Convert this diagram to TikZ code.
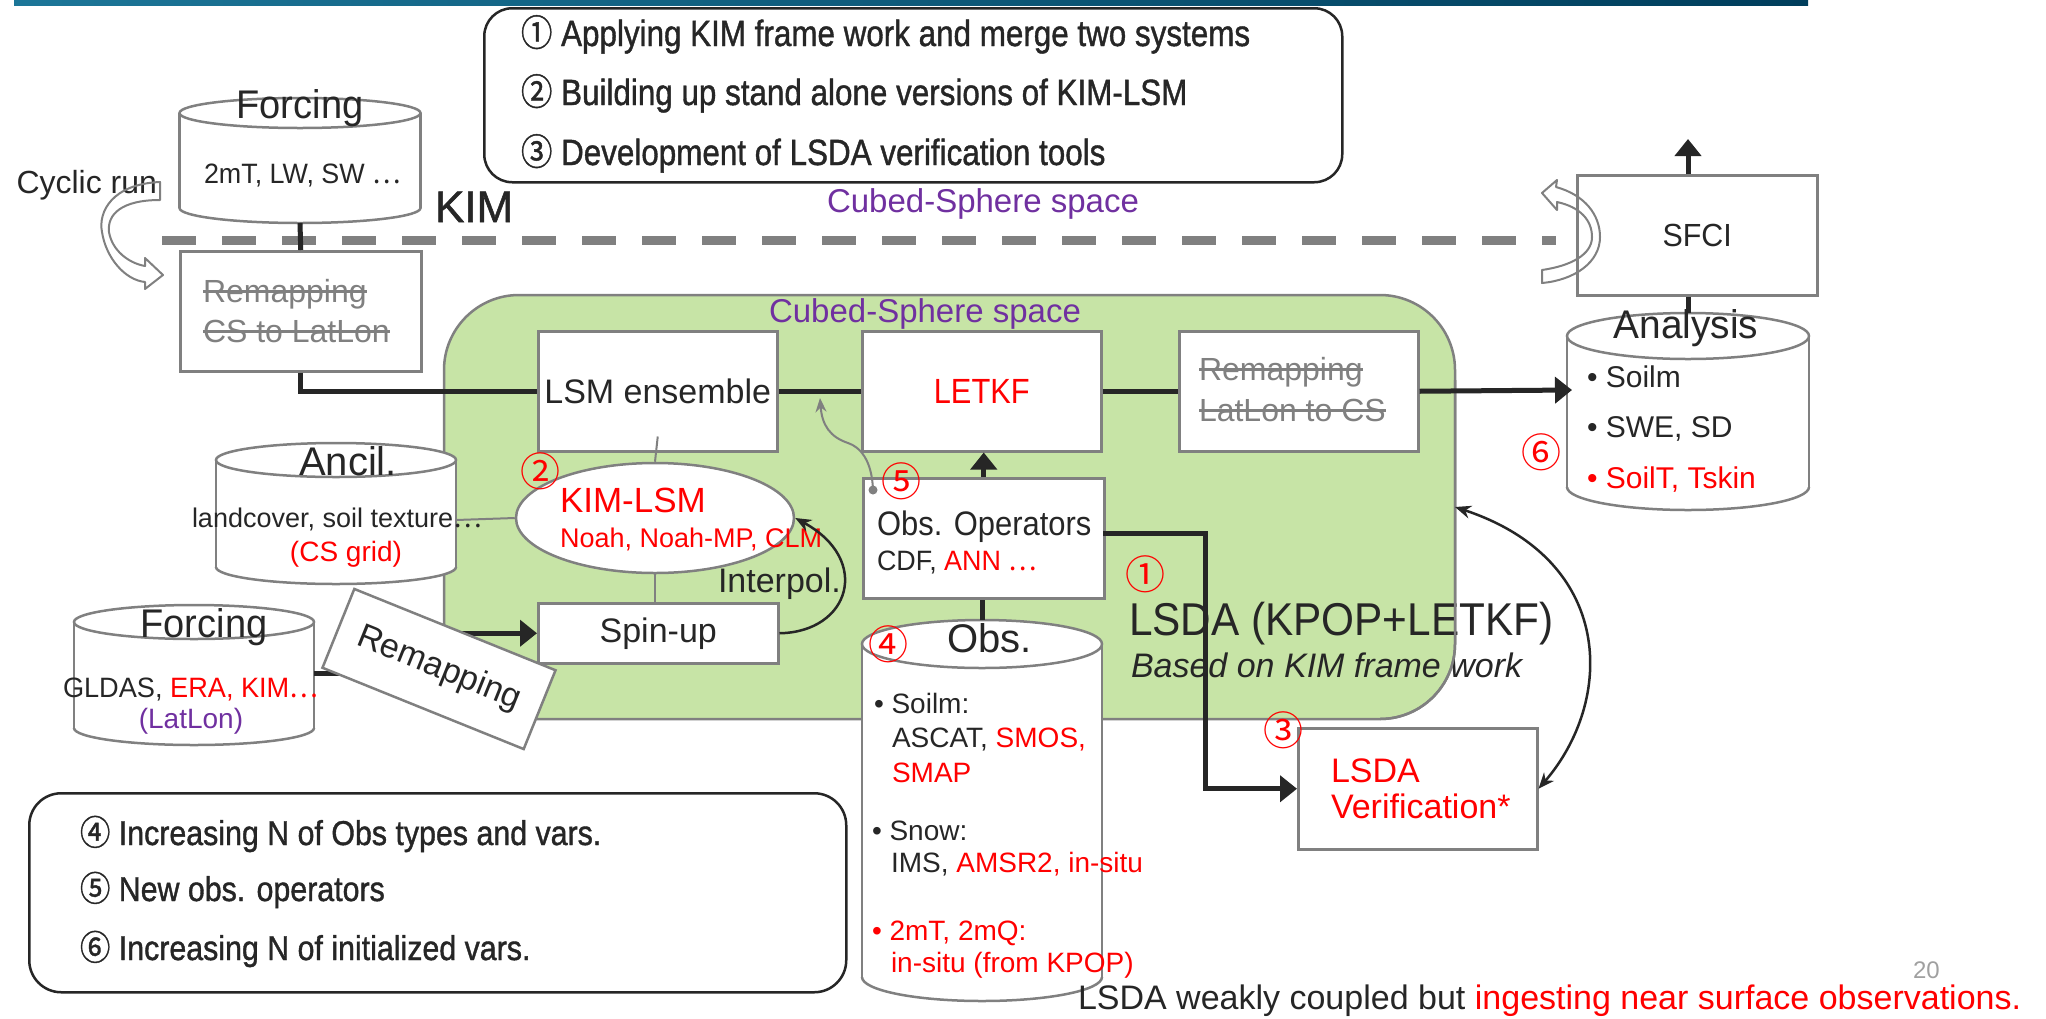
\documentclass[tikz,border=0pt]{standalone}
\usepackage{fontspec}
\setmainfont{Liberation Sans}
\newfontfamily\cjk{Noto Sans CJK SC}
\newfontfamily\cjkb{Noto Sans CJK SC}[FakeBold=1.2]
\newfontfamily\hv{Liberation Sans}[FakeBold=1.2]
\usepackage{graphicx}
\usetikzlibrary{arrows.meta,shapes.geometric}
\definecolor{tx}{HTML}{262626}
\definecolor{gl}{HTML}{808080}
\definecolor{rd}{HTML}{FF0000}
\definecolor{pu}{HTML}{7030A0}
\definecolor{gn}{RGB}{199,228,166}
\definecolor{barA}{RGB}{28,118,152}
\definecolor{barB}{RGB}{0,62,92}
\definecolor{pg}{HTML}{A0A0A0}
\newcommand\T[3]{\scalebox{#2}[1]{\fontsize{#1pt}{#1pt}\selectfont #3}}
\newcommand\cn[1]{\smash{\cjk #1}}
\newcommand\cnb[1]{\smash{\cjkb #1}}
\newcommand\so[1]{\setbox0\hbox{#1}\leavevmode\rlap{\vrule height .36em depth -.29em width \wd0}\box0}
\newcommand\cyl[6]{%
  \fill[white] ({#2-#3},#4) rectangle ({#2+#3},#5);
  \fill[white] (#2,#5) ellipse [x radius=#3pt, y radius=#6pt];
  \begin{scope}
    \clip ({#2-#3-5},#5) rectangle ({#2+#3+5},{#5+#6+5});
    \draw[cylline] (#2,#5) ellipse [x radius=#3pt, y radius=#6pt];
  \end{scope}
  \draw[cylline] ({#2-#3},#4) -- ({#2-#3},#5);
  \draw[cylline] ({#2+#3},#4) -- ({#2+#3},#5);
  \draw[cylline, fill=white] (#2,#4) ellipse [x radius=#3pt, y radius=#6pt];
  \coordinate (#1-n) at (#2,{#4-#6});
  \coordinate (#1-s) at (#2,{#5+#6});
}
\tikzset{
  txt/.style={inner sep=0pt, outer sep=0pt, text=tx},
  gbox/.style={draw=gl, line width=2.5pt, fill=white, inner sep=0pt, anchor=north west, text=tx},
  conn/.style={draw=tx, line width=5pt},
  bigtip/.style={-{Triangle[length=17pt,width=26pt]}},
  gthin/.style={draw=gl, line width=2pt},
  curv/.style={draw=tx, line width=2.5pt},
  cylline/.style={draw=gl, line width=2.5pt},
  hollow/.style={draw=gl, line width=2pt, line join=round},
  redno/.style={inner sep=0pt, outer sep=0pt, text=rd, anchor=base},
}
\begin{document}
\begin{tikzpicture}[x=1pt,y=-1pt]
\useasboundingbox (0,0) rectangle (2046,1018);
\fill[white] (0,0) rectangle (2046,1018);
\shade[left color=barA, right color=barB] (14,0) rectangle (1808,5);

% green region
\node[draw=gl, fill=gn, line width=2.5pt, rounded corners=75pt, minimum width=1011pt, minimum height=424pt, anchor=north west, inner sep=0pt, outer sep=0pt] (green) at (444,295) {};
\node[txt, text=pu, anchor=base] (cs2) at (925,322) {\T{33}{1}{Cubed-Sphere space}};

% dashed KIM boundary
\coordinate (dashL) at (162,240);
\coordinate (dashR) at (1556,240);
\draw[gl, line width=9pt, dash pattern=on 34pt off 26pt] (dashL) -- (dashR);

% goals box
\node[draw=tx, line width=2.5pt, rounded corners=28pt, fill=white, minimum width=858pt, minimum height=174pt, anchor=north west, inner sep=0pt] (goals) at (483,7) {};
\node[txt, anchor=base west] (g1) at (521,46) {\T{36.5}{0.86}{\hv\cnb{①} Applying KIM frame work and merge two systems}};
\node[txt, anchor=base west] (g2) at (521,105) {\T{36.5}{0.86}{\hv\cnb{②} Building up stand alone versions of KIM-LSM}};
\node[txt, anchor=base west] (g3) at (521,165) {\T{36.5}{0.86}{\hv\cnb{③} Development of LSDA verification tools}};

% forcing (top)
\cyl{fcA}{300}{120.5}{113}{208}{15}
\node[txt, anchor=base] (fcAt) at (300,118) {\T{40}{0.95}{Forcing}};
\node[txt, anchor=base west] (fcAv) at (204,183) {\T{28}{0.96}{2mT, LW, SW \cn{…}}};
\node[txt, anchor=base east] (cyc) at (157,193) {\T{32}{1}{Cyclic run}};
\node[txt, anchor=base west] (kim) at (435,222) {\T{44}{1}{\hv KIM}};
\node[txt, text=pu, anchor=base] (cs1) at (983,212) {\T{33}{1}{Cubed-Sphere space}};

% remapping CS to LatLon
\node[gbox, minimum width=241pt, minimum height=120pt] (remapA) at (179,250) {};
\node[txt, text=gl, anchor=base west] (remapA1) at (203,302) {\T{32}{1}{\so{Remapping}}};
\node[txt, text=gl, anchor=base west] (remapA2) at (203,342) {\T{32}{1}{\so{CS to LatLon}}};

% cyclic hollow arrows
\draw[hollow] (160,182) .. controls (112,184) and (98,212) .. (102,232) .. controls (106,258) and (125,280) .. (145,282) -- (145,289) -- (163,275) -- (145,258) -- (145,266) .. controls (128,263) and (112,250) .. (109,232) .. controls (107,214) and (122,200) .. (160,200) -- cycle;

% row of boxes
\node[gbox, minimum width=239pt, minimum height=120pt] (lsm) at (537,330) {\T{34}{1}{LSM ensemble}};
\node[gbox, minimum width=239pt, minimum height=120pt, text=rd] (letkf) at (861,330) {\T{35}{0.88}{LETKF}};
\node[gbox, minimum width=239pt, minimum height=120pt] (remapB) at (1178,330) {};
\node[txt, text=gl, anchor=base west] (remapB1) at (1199,380) {\T{32}{1}{\so{Remapping}}};
\node[txt, text=gl, anchor=base west] (remapB2) at (1199,421) {\T{32}{1}{\so{LatLon to CS}}};

% KIM-LSM ellipse
\node[ellipse, draw=gl, fill=white, line width=2.5pt, minimum width=278pt, minimum height=110pt, inner sep=0pt] (kimlsm) at (655,518) {};
\node[txt, text=rd, anchor=base west] (kimlsmt) at (560,512) {\T{35}{1}{KIM-LSM}};
\node[txt, text=rd, anchor=base west] (noah) at (560,547) {\T{27}{1}{Noah, Noah-MP, CLM}};

% spin-up
\node[gbox, minimum width=240pt, minimum height=60pt] (spin) at (537,602) {\T{34}{1}{Spin-up}};
\node[txt, anchor=base west] (interp) at (718,592) {\T{34}{1}{Interpol.}};

% ancillary
\cyl{anc}{336}{120}{460}{567}{17}
\node[txt, anchor=base] (ancT) at (348,475) {\T{40}{1}{Ancil.}};
\node[txt, anchor=base west] (ancV) at (192,527) {\T{27}{1}{landcover, soil texture\cn{…}}};
\node[txt, text=rd, anchor=base] (ancG) at (346,561) {\T{28}{1}{(CS grid)}};
\coordinate (anc-e) at (456,520);

% forcing (lower)
\cyl{fcB}{194}{120}{622}{728}{17}
\node[txt, anchor=base] (fcBt) at (204,637) {\T{40}{0.95}{Forcing}};
\node[txt, anchor=base west] (fcBv) at (63,697) {\T{28}{0.97}{GLDAS, \textcolor{rd}{ERA, KIM\cn{…}}}};
\node[txt, text=pu, anchor=base] (fcBg) at (191,728) {\T{28}{1}{(LatLon)}};
\coordinate (fcB-e) at (314,673);

% obs operators
\node[gbox, minimum width=241pt, minimum height=120pt] (obsop) at (862,477) {};
\node[txt, anchor=base west] (obsop1) at (877,535) {\T{34}{0.91}{Obs. Operators}};
\node[txt, anchor=base west] (obsop2) at (877,570) {\T{28}{0.96}{CDF, \textcolor{rd}{ANN \cn{…}}}};
\coordinate (obsopE) at (1103,533);

% obs cylinder
\cyl{obsC}{982}{120}{644}{977}{24}
\node[txt, anchor=base west] (obsT) at (947,652) {\T{40}{1}{Obs.}};
\node[txt, anchor=base west] (ob1) at (874,713) {\T{28}{1}{• Soilm:}};
\node[txt, anchor=base west] (ob2) at (892,747) {\T{28}{1}{ASCAT, \textcolor{rd}{SMOS,}}};
\node[txt, text=rd, anchor=base west] (ob3) at (892,782) {\T{28}{1}{SMAP}};
\node[txt, anchor=base west] (ob4) at (872,840) {\T{28}{1}{• Snow:}};
\node[txt, anchor=base west] (ob5) at (891,872) {\T{28}{1}{IMS, \textcolor{rd}{AMSR2, in-situ}}};
\node[txt, text=rd, anchor=base west] (ob6) at (872,940) {\T{28}{1}{• 2mT, 2mQ:}};
\node[txt, text=rd, anchor=base west] (ob7) at (891,972) {\T{28}{1}{in-situ (from KPOP)}};

% LSDA label
\node[txt, anchor=base west] (lsda) at (1129,635) {\T{46}{0.92}{LSDA (KPOP+LETKF)}};
\node[txt, anchor=base west] (based) at (1131,677) {\T{34}{1}{\itshape Based on KIM frame work}};
\begin{scope}
  \clip (1380,380) rectangle (1500,720);
  \draw[gl, line width=2.5pt, rounded corners=75pt] (green.north west) rectangle (green.south east);
\end{scope}

% verification
\node[gbox, minimum width=239pt, minimum height=121pt] (verif) at (1297,727) {};
\node[txt, text=rd, anchor=base west] (verif1) at (1331,782) {\T{34}{1}{LSDA}};
\node[txt, text=rd, anchor=base west] (verif2) at (1331,818) {\T{34}{1}{Verification*}};

% SFCI and analysis
\node[gbox, minimum width=240pt, minimum height=120pt] (sfci) at (1576,174) {\T{32}{0.95}{SFCI}};
\draw[hollow] (1556,187) .. controls (1585,195) and (1600,215) .. (1600,237) .. controls (1600,262) and (1575,280) .. (1542,283) -- (1542,270) .. controls (1570,266) and (1592,255) .. (1592,237) .. controls (1592,220) and (1580,207) .. (1557,202) -- (1557,210) -- (1542,193) -- (1557,180) -- cycle;
\cyl{anaC}{1688}{121}{336}{487}{23}
\node[txt, anchor=base] (anaT) at (1686,338) {\T{40}{0.97}{Analysis}};
\node[txt, anchor=base west] (an1) at (1587,387) {\T{30}{1}{• Soilm}};
\node[txt, anchor=base west] (an2) at (1587,437) {\T{30}{1}{• SWE, SD}};
\node[txt, text=rd, anchor=base west] (an3) at (1587,488) {\T{30}{1}{• SoilT, Tskin}};
\coordinate (anaIn) at (1572,390);
\coordinate (upTip) at (1688,139);

% connectors
\draw[conn] (fcA-s) -- (remapA.north);
\draw[conn] (remapA.south) |- (lsm.west);
\draw[conn] (lsm.east) -- (letkf.west);
\draw[conn] (letkf.east) -- (remapB.west);
\draw[conn, bigtip] (remapB.east) -- (anaIn);
\draw[conn] (anaC-n) -- (anaC-n |- sfci.south);
\draw[conn, bigtip] (anaC-n |- sfci.north) -- (upTip);
\draw[conn, bigtip] (obsop.north) -- (obsop.north |- letkf.south);
\draw[conn] (obsC-n) -- (obsC-n |- obsop.south);
\draw[conn, bigtip] (obsopE) -- ++(102,0) |- (verif.west);
\draw[conn, bigtip] (fcB-e) -- ++(126,0) |- (spin.west);
\draw[gthin] ([yshift=16pt]lsm.south) -- (kimlsm.north);
\draw[gthin] (anc-e) -- (kimlsm.west);
\draw[gthin] (kimlsm.south) -- (kimlsm.south |- spin.north);
\draw[curv, -{Stealth[length=16pt,width=13pt]}] (spin.east) .. controls (850,632) and (872,560) .. (kimlsm.east);
\coordinate (dot5) at (873,490);
\coordinate (ensTip) at (820,398);
\fill[gl] (dot5) circle (4.5pt);
\draw[gthin, -{Stealth[length=14pt,width=11pt]}] (dot5) .. controls (872,460) and (860,447) .. (848,443) .. controls (830,437) and (822,425) .. (ensTip);
\draw[curv, {Stealth[length=16pt,width=13pt]}-{Stealth[length=16pt,width=13pt]}] (verif.east) .. controls (1615,700) and (1615,560) .. (green.east);

% rotated remapping box
\node[draw=gl, line width=2.5pt, fill=white, rotate=-22, minimum width=217pt, minimum height=85pt, inner sep=0pt, text=tx] (remapR) at (439,669) {\T{34}{1}{Remapping}};

% red circled markers
\node[redno] (n2) at (540,486) {\T{40}{1}{\cn{②}}};
\node[redno] (n5) at (901,496) {\T{40}{1}{\cn{⑤}}};
\node[redno] (n1) at (1145,589) {\T{40}{1}{\cn{①}}};
\node[redno] (n4) at (888,659) {\T{40}{1}{\cn{④}}};
\node[redno] (n3) at (1283,745) {\T{40}{1}{\cn{③}}};
\node[redno] (n6) at (1541,467) {\T{40}{1}{\cn{⑥}}};

% notes box
\node[draw=tx, line width=2.5pt, rounded corners=32pt, fill=white, minimum width=817pt, minimum height=199pt, anchor=north west, inner sep=0pt] (notes) at (28,792) {};
\node[txt, anchor=base west] (nt1) at (80,845) {\T{34.5}{0.88}{\hv\cnb{④} Increasing N of Obs types and vars.}};
\node[txt, anchor=base west] (nt2) at (80,901) {\T{34.5}{0.88}{\hv\cnb{⑤} New obs. operators}};
\node[txt, anchor=base west] (nt3) at (80,960) {\T{34.5}{0.88}{\hv\cnb{⑥} Increasing N of initialized vars.}};

% footer
\node[txt, text=pg, anchor=base west] (pnum) at (1913,978) {\T{24}{1}{20}};
\node[txt, anchor=base west] (caption) at (1078,1009) {\T{34}{1}{LSDA weakly coupled but \textcolor{rd}{ingesting near surface observations.}}};
\end{tikzpicture}
\end{document}
